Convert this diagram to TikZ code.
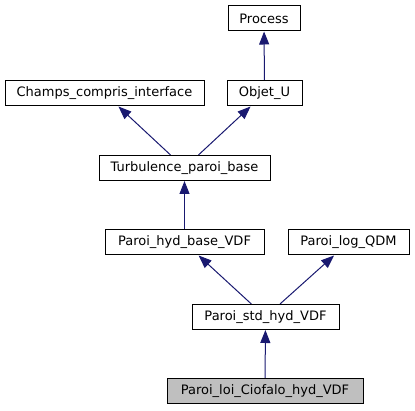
\documentclass[tikz,border=0pt]{standalone}
\usepackage{fontspec}
\setmainfont{DejaVu Sans}
\usetikzlibrary{arrows.meta}
\definecolor{edgeblue}{RGB}{25,25,112}
\pgfdeclarelayer{edgelayer}
\pgfdeclarelayer{nodelayer}
\pgfsetlayers{edgelayer,nodelayer,main}
\tikzstyle{none}=[inner sep=0pt]
\tikzstyle{class_box}=[rectangle,draw=black,fill=white,line width=1pt,minimum height=25pt,inner sep=2pt,font=\fontsize{13}{15}\selectfont]
\tikzstyle{current_box}=[class_box,fill=black!25]
\tikzstyle{inherit}=[-{Triangle[length=13pt,width=10pt]},draw=edgeblue,line width=1pt]

\begin{document}
\begin{tikzpicture}[x=1pt,y=-1pt]
	\useasboundingbox (0,0) rectangle (415,411);
	\begin{pgfonlayer}{nodelayer}
		\node [style={class_box},minimum width=72pt] (0) at (264, 18.5) {Process};
		\node [style={class_box},minimum width=199pt] (1) at (104.5, 93.5) {Champs\_compris\_interface};
		\node [style={class_box},minimum width=75pt] (2) at (264.5, 93.5) {Objet\_U};
		\node [style={class_box},minimum width=171pt] (3) at (184.5, 168) {Turbulence\_paroi\_base};
		\node [style={class_box},minimum width=159pt] (4) at (184.5, 242.5) {Paroi\_hyd\_base\_VDF};
		\node [style={class_box},minimum width=121pt] (5) at (348.5, 242.5) {Paroi\_log\_QDM};
		\node [style={class_box},minimum width=147pt] (6) at (265.5, 317) {Paroi\_std\_hyd\_VDF};
		\node [style={current_box},minimum width=196pt] (7) at (265, 391.5) {Paroi\_loi\_Ciofalo\_hyd\_VDF};
	\end{pgfonlayer}
	\begin{pgfonlayer}{edgelayer}
		\draw [style=inherit] (2) to (0);
		\draw [style=inherit] (3) to (1);
		\draw [style=inherit] (3) to (2);
		\draw [style=inherit] (4) to (3);
		\draw [style=inherit] (6) to (4);
		\draw [style=inherit] (6) to (5);
		\draw [style=inherit] (7) to (6);
	\end{pgfonlayer}
\end{tikzpicture}
\end{document}
